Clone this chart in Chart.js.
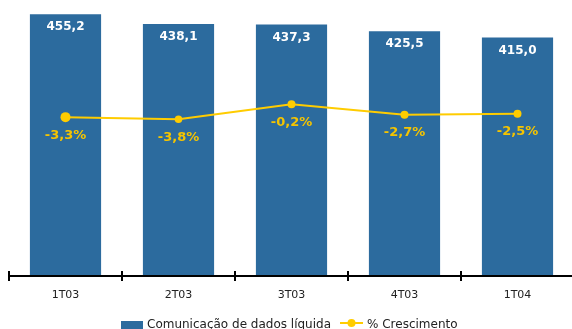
<!DOCTYPE html>
<html>
<head>
<meta charset="utf-8">
<script src="https://cdn.jsdelivr.net/npm/chart.js@4.4.0/dist/chart.umd.min.js"></script>
<style>
html,body{margin:0;padding:0;background:#fff;overflow:hidden;}
#wrap{width:574px;height:329px;}
</style>
</head>
<body>
<div id="wrap"><canvas id="c" width="574" height="329"></canvas></div>
<script>
const categories = ["1T03", "2T03", "3T03", "4T03", "1T04"];
const dataRevenue = [455.2, 438.1, 437.3, 425.5, 415.0];
const growthPct = [-3.3, -3.8, -0.2, -2.7, -2.5];
const barLabel = "Comunicação de dados líquida";
const lineLabel = "% Crescimento";

const BAR_COLOR = "#2C6B9E";
const LINE_COLOR = "#FFCC00";
const PCT_COLOR = "#F5C400";
const FONT = "DejaVu Sans";

const fmt = (v, d) => v.toFixed(d).replace(".", ",");

const labelsPlugin = {
  id: "valueLabels",
  afterDatasetsDraw(chart) {
    const ctx = chart.ctx;
    ctx.save();
    ctx.textAlign = "center";
    ctx.textBaseline = "middle";
    ctx.font = "bold 12px '" + FONT + "'";
    const barMeta = chart.getDatasetMeta(1);
    barMeta.data.forEach((el, i) => {
      ctx.fillStyle = "#FFFFFF";
      ctx.fillText(fmt(dataRevenue[i], 1), el.x, el.y + 13);
    });
    ctx.font = "bold 13px '" + FONT + "'";
    const lineMeta = chart.getDatasetMeta(0);
    lineMeta.data.forEach((el, i) => {
      ctx.fillStyle = PCT_COLOR;
      ctx.fillText(fmt(growthPct[i], 1) + "%", el.x, el.y + 18);
    });
    ctx.restore();
  }
};

const axisPlugin = {
  id: "axisTicks",
  afterDraw(chart) {
    const ctx = chart.ctx;
    const xs = chart.scales.x;
    const y = chart.chartArea.bottom;
    const n = categories.length;
    const w = (xs.getPixelForValue(1) - xs.getPixelForValue(0));
    ctx.save();
    ctx.strokeStyle = "#000";
    ctx.lineWidth = 2;
    ctx.beginPath();
    ctx.moveTo(xs.getPixelForValue(0) - w / 2 - 1, y);
    ctx.lineTo(xs.getPixelForValue(n - 1) + w / 2 + 2, y);
    ctx.stroke();
    for (let i = 0; i < n; i++) {
      const x = Math.round(xs.getPixelForValue(i) - w / 2);
      ctx.beginPath();
      ctx.moveTo(x, y - 5);
      ctx.lineTo(x, y + 5);
      ctx.stroke();
    }
    // legend
    ctx.font = "12px '" + FONT + "'";
    ctx.textBaseline = "middle";
    ctx.textAlign = "left";
    ctx.fillStyle = BAR_COLOR;
    ctx.fillRect(121, 321, 22, 11);
    ctx.fillStyle = "#222";
    ctx.fillText(barLabel, 147, 325);
    ctx.strokeStyle = LINE_COLOR;
    ctx.lineWidth = 2;
    ctx.beginPath();
    ctx.moveTo(340, 323);
    ctx.lineTo(363, 323);
    ctx.stroke();
    ctx.fillStyle = LINE_COLOR;
    ctx.beginPath();
    ctx.arc(351.5, 323, 4, 0, Math.PI * 2);
    ctx.fill();
    ctx.fillStyle = "#222";
    ctx.fillText(lineLabel, 367, 325);
    ctx.restore();
  }
};

new Chart(document.getElementById("c"), {
  data: {
    labels: categories,
    datasets: [
      {
        type: "line",
        label: lineLabel,
        data: growthPct,
        yAxisID: "y2",
        borderColor: LINE_COLOR,
        backgroundColor: LINE_COLOR,
        borderWidth: 2,
        pointRadius: [5, 3.8, 4, 4, 4],
        pointBorderWidth: 0,
        tension: 0,
        order: 0
      },
      {
        type: "bar",
        label: barLabel,
        data: dataRevenue,
        yAxisID: "y",
        backgroundColor: BAR_COLOR,
        borderWidth: 0,
        categoryPercentage: 1,
        barPercentage: 0.63,
        order: 1
      }
    ]
  },
  options: {
    responsive: false,
    animation: false,
    layout: { autoPadding: false, padding: { left: 9, right: 0, top: 0, bottom: 0 } },
    plugins: { legend: { display: false }, tooltip: { enabled: false } },
    scales: {
      x: {
        offset: true,
        grid: { display: false, drawTicks: false },
        border: { display: false },
        ticks: { color: "#222", font: { family: FONT, size: 11 }, padding: 13 },
        afterFit(s) { s.height = 53; }
      },
      y: { display: false, min: 0, max: 480 },
      y2: { display: false, min: -41.4, max: 24.8 }
    }
  },
  plugins: [labelsPlugin, axisPlugin]
});
</script>
</body>
</html>
